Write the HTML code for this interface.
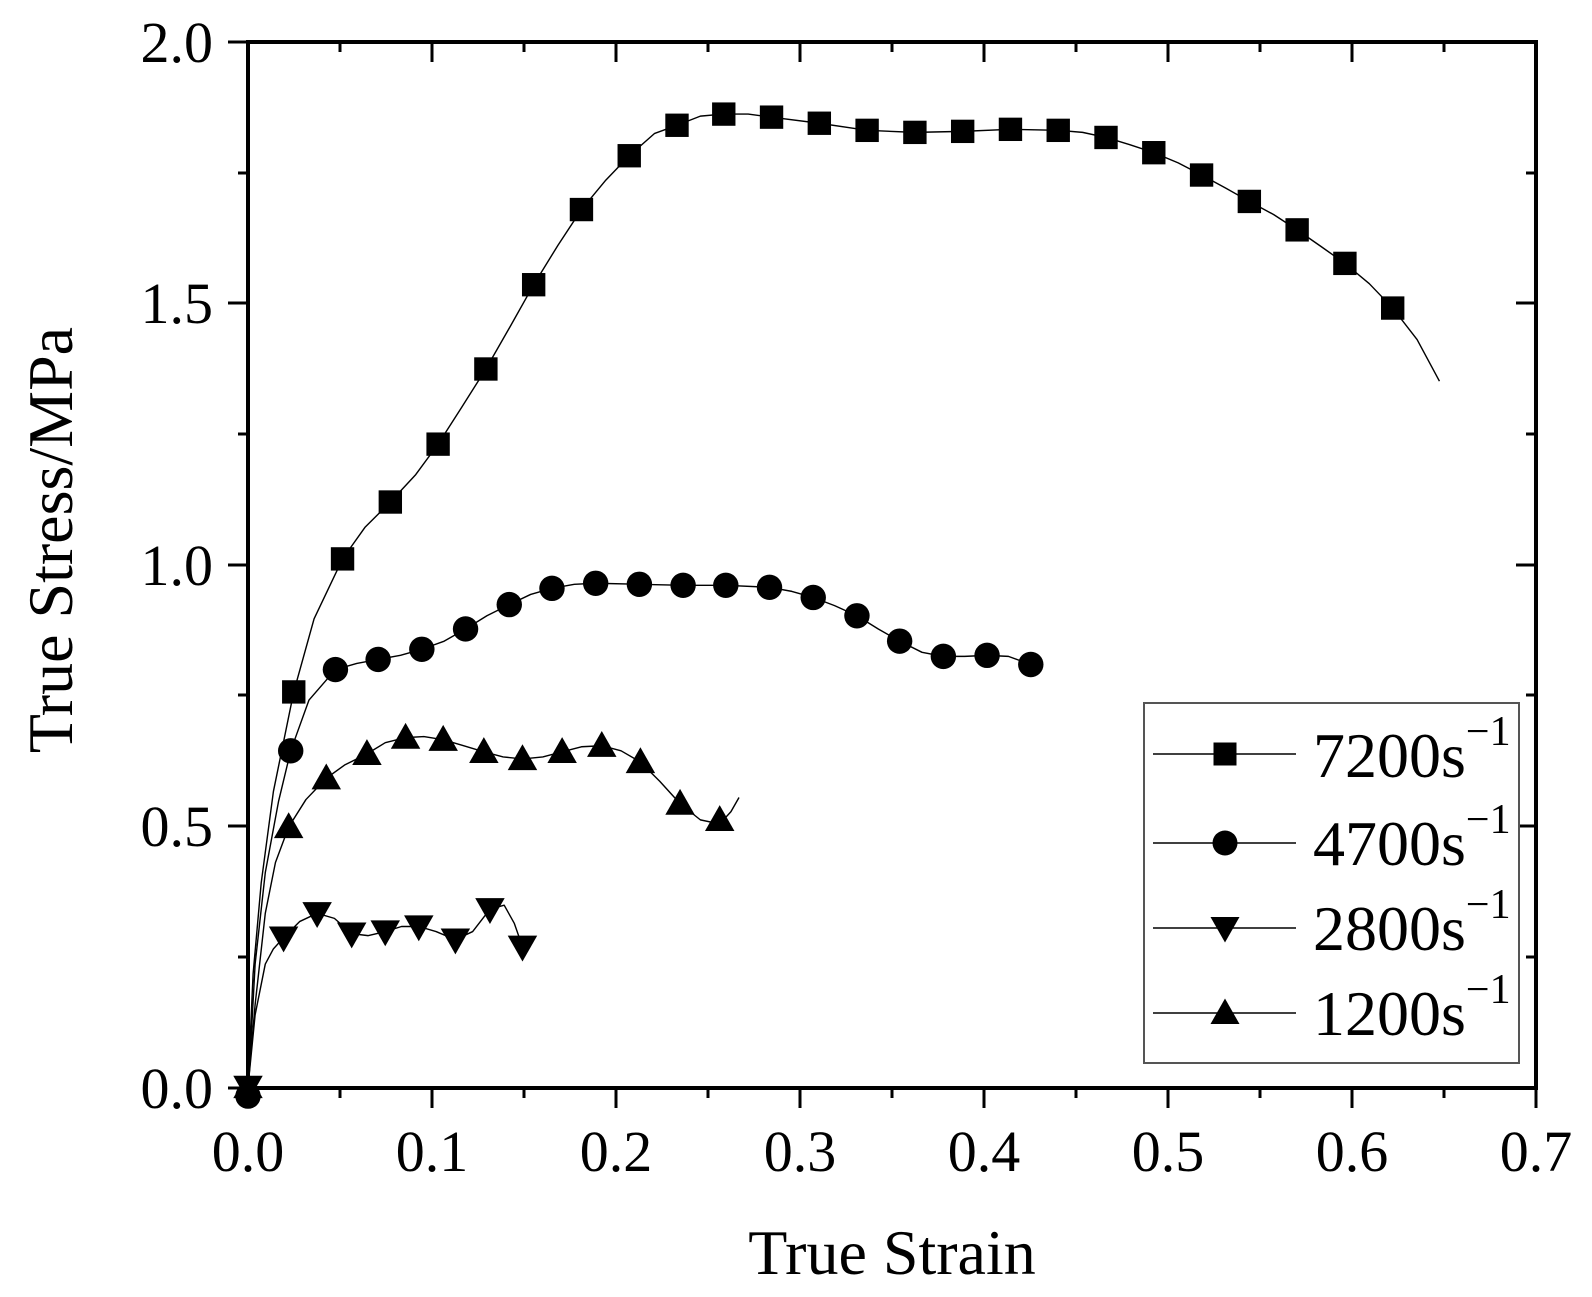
<!DOCTYPE html>
<html><head><style>
html,body{margin:0;padding:0;background:#fff;}
svg{display:block;font-family:"Liberation Serif",serif;}
</style></head><body>
<svg width="1592" height="1297" viewBox="0 0 1592 1297" xmlns="http://www.w3.org/2000/svg">
<defs>
<rect id="sq" x="-11.5" y="-11.5" width="23" height="23" fill="#000"/>
<circle id="ci" r="12.5" fill="#000"/>
<path id="tu" d="M0,-14.5 L14.5,11 L-14.5,11 Z" fill="#000"/>
<path id="td" d="M0,14.5 L14.5,-11 L-14.5,-11 Z" fill="#000"/>
</defs>
<g stroke="#000" stroke-width="4" fill="none">
<rect x="248" y="42" width="1288" height="1046"/>
</g>
<g stroke="#000" stroke-width="3">
<line x1="228" y1="42" x2="248" y2="42"/><line x1="228" y1="303" x2="248" y2="303"/><line x1="228" y1="565" x2="248" y2="565"/><line x1="228" y1="826" x2="248" y2="826"/><line x1="228" y1="1088" x2="248" y2="1088"/>
<line x1="238" y1="173" x2="248" y2="173"/><line x1="238" y1="434" x2="248" y2="434"/><line x1="238" y1="695" x2="248" y2="695"/><line x1="238" y1="957" x2="248" y2="957"/>
<line x1="1516" y1="303" x2="1536" y2="303"/><line x1="1516" y1="565" x2="1536" y2="565"/><line x1="1516" y1="826" x2="1536" y2="826"/>
<line x1="1526" y1="173" x2="1536" y2="173"/><line x1="1526" y1="434" x2="1536" y2="434"/><line x1="1526" y1="695" x2="1536" y2="695"/><line x1="1526" y1="957" x2="1536" y2="957"/>
<line x1="248" y1="1088" x2="248" y2="1108"/><line x1="432" y1="1088" x2="432" y2="1108"/><line x1="616" y1="1088" x2="616" y2="1108"/><line x1="800" y1="1088" x2="800" y2="1108"/><line x1="984" y1="1088" x2="984" y2="1108"/><line x1="1168" y1="1088" x2="1168" y2="1108"/><line x1="1352" y1="1088" x2="1352" y2="1108"/><line x1="1536" y1="1088" x2="1536" y2="1108"/>
<line x1="340" y1="1088" x2="340" y2="1098"/><line x1="524" y1="1088" x2="524" y2="1098"/><line x1="708" y1="1088" x2="708" y2="1098"/><line x1="892" y1="1088" x2="892" y2="1098"/><line x1="1076" y1="1088" x2="1076" y2="1098"/><line x1="1260" y1="1088" x2="1260" y2="1098"/><line x1="1444" y1="1088" x2="1444" y2="1098"/>
<line x1="432" y1="42" x2="432" y2="62"/><line x1="616" y1="42" x2="616" y2="62"/><line x1="800" y1="42" x2="800" y2="62"/><line x1="984" y1="42" x2="984" y2="62"/><line x1="1168" y1="42" x2="1168" y2="62"/><line x1="1352" y1="42" x2="1352" y2="62"/>
<line x1="340" y1="42" x2="340" y2="52"/><line x1="524" y1="42" x2="524" y2="52"/><line x1="708" y1="42" x2="708" y2="52"/><line x1="892" y1="42" x2="892" y2="52"/><line x1="1076" y1="42" x2="1076" y2="52"/><line x1="1260" y1="42" x2="1260" y2="52"/><line x1="1444" y1="42" x2="1444" y2="52"/>
</g>
<g font-size="58" fill="#000" text-anchor="end">
<text x="213" y="62">2.0</text><text x="213" y="323">1.5</text><text x="213" y="585">1.0</text><text x="213" y="846">0.5</text><text x="213" y="1108">0.0</text>
</g>
<g font-size="58" fill="#000" text-anchor="middle">
<text x="248" y="1171">0.0</text><text x="432" y="1171">0.1</text><text x="616" y="1171">0.2</text><text x="800" y="1171">0.3</text><text x="984" y="1171">0.4</text><text x="1168" y="1171">0.5</text><text x="1352" y="1171">0.6</text><text x="1536" y="1171">0.7</text>
</g>
<text x="892" y="1274" font-size="64" text-anchor="middle">True Strain</text>
<text transform="translate(72,540) rotate(-90)" font-size="64" text-anchor="middle">True Stress/MPa</text>

<g transform="translate(248,42) scale(1.0166,1.0155) translate(-245,-42)">
<g fill="none" stroke="#000" stroke-width="1.4" stroke-linejoin="round">
<polyline points="245,1071 250,960 258,870 270,780 290,682 310,610 338,551 360,520 385,495 410,468 432,438 455,402 479,364 503,322 526,281 550,242 573,207 597,178 620,154 645,132 667,124 690,115 713,113 737,113 760,116 807,122 854,129 901,131 948,130 995,128 1042,129 1066,131 1089,136 1112,143 1136,151 1160,161 1183,173 1207,186 1230,199 1254,212 1277,227 1300,243 1324,260 1348,280 1371,304 1395,335 1417,376"/>
<polyline points="245,1080 252,950 262,860 275,790 287,740 305,690 331,660 352,654 373,650 395,646 416,640 438,632 459,620 480,607 502,596 523,586 544,580 566,576 587,575 630,576 673,577 715,577 758,579 780,583 801,589 822,597 844,607 865,620 886,632 908,643 929,647 950,647 972,646 993,647 1015,655"/>
<polyline points="245,1071 252,990 262,900 272,850 285,815 302,788 322,767 340,754 362,743 380,732 400,727 418,726 437,729 457,735 477,741 496,746 515,748 535,746 554,741 573,736 593,735 612,740 631,751 650,770 670,792 690,808 709,812 720,800 728,786"/>
<polyline points="245,1071 252,1000 262,950 270,935 280,924 296,908 313,900 330,905 347,920 363,922 380,918 396,913 413,913 430,918 449,926 466,918 483,896 497,892 507,910 515,933 527,925"/>
</g>
<g>
<use href="#sq" x="290" y="682"/><use href="#sq" x="338" y="551"/><use href="#sq" x="385" y="495"/><use href="#sq" x="432" y="438"/><use href="#sq" x="479" y="364"/><use href="#sq" x="526" y="281"/><use href="#sq" x="573" y="207"/><use href="#sq" x="620" y="154"/><use href="#sq" x="667" y="124"/><use href="#sq" x="713" y="113"/><use href="#sq" x="760" y="116"/><use href="#sq" x="807" y="122"/><use href="#sq" x="854" y="129"/><use href="#sq" x="901" y="131"/><use href="#sq" x="948" y="130"/><use href="#sq" x="995" y="128"/><use href="#sq" x="1042" y="129"/><use href="#sq" x="1089" y="136"/><use href="#sq" x="1136" y="151"/><use href="#sq" x="1183" y="173"/><use href="#sq" x="1230" y="199"/><use href="#sq" x="1277" y="227"/><use href="#sq" x="1324" y="260"/><use href="#sq" x="1371" y="304"/>
<use href="#ci" x="245" y="1080"/><use href="#ci" x="287" y="740"/><use href="#ci" x="331" y="660"/><use href="#ci" x="373" y="650"/><use href="#ci" x="416" y="640"/><use href="#ci" x="459" y="620"/><use href="#ci" x="502" y="596"/><use href="#ci" x="544" y="580"/><use href="#ci" x="587" y="575"/><use href="#ci" x="630" y="576"/><use href="#ci" x="673" y="577"/><use href="#ci" x="715" y="577"/><use href="#ci" x="758" y="579"/><use href="#ci" x="801" y="589"/><use href="#ci" x="844" y="607"/><use href="#ci" x="886" y="632"/><use href="#ci" x="929" y="647"/><use href="#ci" x="972" y="646"/><use href="#ci" x="1015" y="655"/>
<use href="#tu" x="245" y="1071"/><use href="#tu" x="285" y="815"/><use href="#tu" x="322" y="767"/><use href="#tu" x="362" y="743"/><use href="#tu" x="400" y="727"/><use href="#tu" x="437" y="729"/><use href="#tu" x="477" y="741"/><use href="#tu" x="515" y="748"/><use href="#tu" x="554" y="741"/><use href="#tu" x="593" y="735"/><use href="#tu" x="631" y="751"/><use href="#tu" x="670" y="792"/><use href="#tu" x="709" y="808"/>
<use href="#td" x="245" y="1071"/><use href="#td" x="280" y="924"/><use href="#td" x="313" y="900"/><use href="#td" x="347" y="920"/><use href="#td" x="380" y="918"/><use href="#td" x="413" y="913"/><use href="#td" x="449" y="926"/><use href="#td" x="483" y="896"/><use href="#td" x="515" y="933"/>
</g>
</g>

<rect x="1144" y="703" width="375" height="360" fill="#fff" stroke="#555" stroke-width="2"/>
<g stroke="#000" stroke-width="1.4">
<line x1="1153" y1="754" x2="1296" y2="754"/><line x1="1153" y1="843" x2="1296" y2="843"/><line x1="1153" y1="928" x2="1296" y2="928"/><line x1="1153" y1="1013" x2="1296" y2="1013"/>
</g>
<use href="#sq" x="1225" y="754"/><use href="#ci" x="1225" y="843"/><use href="#td" x="1225" y="928"/><use href="#tu" x="1225" y="1013"/>
<g font-size="64" fill="#000">
<text x="1313" y="777">7200s<tspan font-size="42" dy="-32">−1</tspan></text>
<text x="1313" y="865">4700s<tspan font-size="42" dy="-32">−1</tspan></text>
<text x="1313" y="950">2800s<tspan font-size="42" dy="-32">−1</tspan></text>
<text x="1313" y="1035">1200s<tspan font-size="42" dy="-32">−1</tspan></text>
</g>
</svg>
</body></html>
